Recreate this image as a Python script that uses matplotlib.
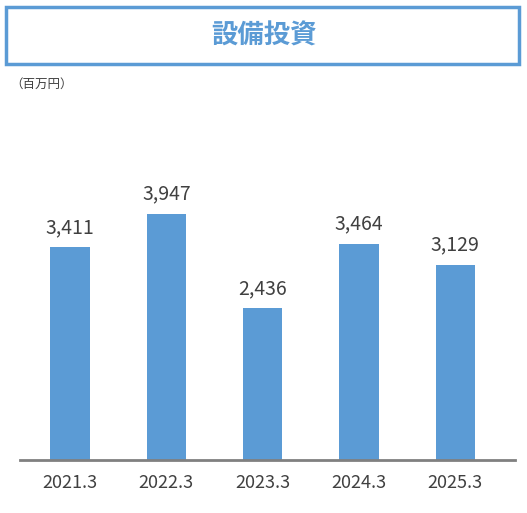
import matplotlib
matplotlib.use("Agg")
import matplotlib.pyplot as plt
from matplotlib.patches import Rectangle

plt.rcParams['font.family'] = ['Noto Sans CJK JP', 'DejaVu Sans']

years = ["2021.3", "2022.3", "2023.3", "2024.3", "2025.3"]
capex = [3411, 3947, 2436, 3464, 3129]
title = "設備投資"
unit = "（百万円）"

blue = "#5b9bd5"
fig = plt.figure(figsize=(5.27, 5.13), dpi=100)

# title box
fig.patches.append(Rectangle((6 / 527, 1 - 64 / 513), 513 / 527, 57 / 513,
                             transform=fig.transFigure, fill=False,
                             edgecolor=blue, linewidth=2.5))
fig.text(0.5, 1 - 36 / 513, title, ha="center", va="center",
         color=blue, fontsize=19, fontweight="bold")
fig.text(10 / 527, 1 - 84 / 513, unit, ha="left", va="center",
         color="#404040", fontsize=9)

ax = fig.add_axes([20 / 527, 53 / 513, 495 / 527, 360 / 513])
x = range(len(years))
bars = ax.bar(x, capex, width=0.41, color=blue)
for xi, v in zip(x, capex):
    ax.text(xi, v + 150, f"{v:,}", ha="center", va="bottom",
            color="#404040", fontsize=14)

ax.set_xlim(-0.52, 4.62)
ax.set_ylim(0, 5776)
ax.set_xticks(list(x))
ax.set_xticklabels(years, fontsize=13, color="#404040")
ax.tick_params(axis="x", length=0, pad=10)
ax.set_yticks([])
for s in ["top", "right", "left"]:
    ax.spines[s].set_visible(False)
ax.spines["bottom"].set_color("#808080")
ax.spines["bottom"].set_linewidth(2)

fig.savefig("out.png", dpi=100)
